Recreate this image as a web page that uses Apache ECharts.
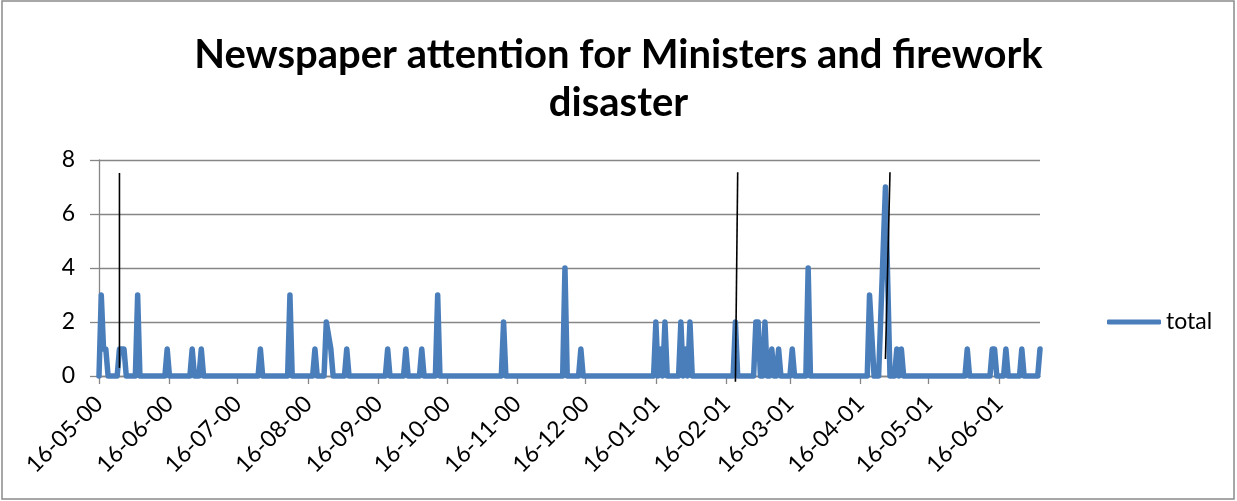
<!DOCTYPE html>
<html>
<head>
<meta charset="utf-8">
<script src="https://cdn.jsdelivr.net/npm/echarts@6/dist/echarts.min.js"></script>
<style>
  html, body { margin: 0; padding: 0; background: #fff; }
  #chart { width: 1237px; height: 501px; }
</style>
</head>
<body>
<div id="chart"></div>
<script>
// Daily article counts, 16 May 2000 – 4 July 2001.
const startDate = '2000-05-16';
const endDate = '2001-07-04';

// Days with one or more articles (all other recorded days are 0).
const spikeDates = [
  '2000-05-17', '2000-05-18', '2000-05-19', '2000-05-25', '2000-05-26', '2000-05-27',
  '2000-06-02', '2000-06-15', '2000-06-26', '2000-06-30', '2000-07-26',
  '2000-08-08', '2000-08-19', '2000-08-24', '2000-08-26', '2000-09-02',
  '2000-09-20', '2000-09-28', '2000-10-05', '2000-10-12', '2000-11-10',
  '2000-12-07', '2000-12-14',
  '2001-01-16', '2001-01-18', '2001-01-20', '2001-01-27', '2001-01-29', '2001-01-31',
  '2001-02-20', '2001-03-01', '2001-03-02', '2001-03-05', '2001-03-08', '2001-03-11',
  '2001-03-17', '2001-03-24', '2001-04-20', '2001-04-27',
  '2001-05-02', '2001-05-04', '2001-06-02', '2001-06-13', '2001-06-14',
  '2001-06-19', '2001-06-26', '2001-07-04'
];
const spikeValues = [
  3, 1, 1, 1, 1, 1,
  3, 1, 1, 1, 1,
  3, 1, 2, 1, 1,
  1, 1, 1, 3, 2,
  4, 1,
  2, 1, 2, 2, 1, 2,
  2, 2, 2, 2, 1, 1,
  1, 4, 3, 7,
  1, 1, 1, 1, 1,
  1, 1, 1
];
// Days without a record (the line is drawn straight across them).
const missingDates = ['2000-08-25', '2001-04-21', '2001-04-25', '2001-04-26', '2001-04-28'];

// Event markers: [date at top, value at top, date at bottom, value at bottom]
const eventMarkers = [
  ['2000-05-25', 7.52, '2000-05-25', 0.3],
  ['2001-02-21', 7.55, '2001-02-20', -0.21],
  ['2001-04-29', 7.55, '2001-04-27', 0.63]
];

const yTicks = { min: 0, max: 8, interval: 2 };

// Build the daily category list and values.
const categories = [];
for (let t = Date.parse(startDate + 'T00:00:00Z'); t <= Date.parse(endDate + 'T00:00:00Z'); t += 86400000) {
  categories.push(new Date(t).toISOString().slice(0, 10));
}
const values = categories.map(d => {
  if (missingDates.includes(d)) return null;
  const i = spikeDates.indexOf(d);
  return i >= 0 ? spikeValues[i] : 0;
});

function fmt(d) {
  // yyyy-mm-dd -> dd-mm-yy
  return d.slice(8, 10) + '-' + d.slice(5, 7) + '-' + d.slice(2, 4);
}
const isMonthTick = (idx, val) => val.slice(8, 10) === '16';

const FONT = 'Lato, "Open Sans", sans-serif';
const GRID_COLOR = '#868686';
const LINE_COLOR = '#4A7EBB';

const chart = echarts.init(document.getElementById('chart'), null, { renderer: 'canvas' });
chart.setOption({
  animation: false,
  backgroundColor: '#ffffff',
  title: {
    text: 'Newspaper attention for Ministers and firework\ndisaster',
    left: 'center',
    top: 26,
    textStyle: {
      fontFamily: FONT,
      fontWeight: 'bold',
      fontSize: 40,
      lineHeight: 48,
      color: '#000'
    }
  },
  legend: {
    data: [{ name: 'total', icon: 'roundRect' }],
    orient: 'vertical',
    left: 1102,
    top: 303,
    itemWidth: 54,
    itemHeight: 5,
    itemGap: 5,
    itemStyle: { color: LINE_COLOR, borderWidth: 0 },
    lineStyle: { width: 0 },
    textStyle: { fontFamily: FONT, fontSize: 23, lineHeight: 28, color: '#000', padding: [0, 0, 0, 0] }
  },
  grid: { left: 99, right: 197, top: 160, bottom: 125, containLabel: false },
  xAxis: {
    type: 'category',
    data: categories,
    boundaryGap: false,
    axisLine: { lineStyle: { color: GRID_COLOR, width: 1.3 } },
    axisTick: { interval: isMonthTick, length: 8, lineStyle: { color: GRID_COLOR, width: 1.3 } },
    axisLabel: {
      interval: isMonthTick,
      rotate: 45,
      margin: 24,
      formatter: v => fmt(v),
      fontFamily: FONT,
      fontSize: 23,
      color: '#000'
    },
    splitLine: { show: false }
  },
  yAxis: {
    type: 'value',
    min: yTicks.min,
    max: yTicks.max,
    interval: yTicks.interval,
    axisLine: { show: true, lineStyle: { color: GRID_COLOR, width: 1.3 } },
    axisTick: { show: true, length: 9, lineStyle: { color: GRID_COLOR, width: 1.3 } },
    axisLabel: { margin: 24, fontFamily: FONT, fontSize: 23, color: '#000' },
    splitLine: { lineStyle: { color: GRID_COLOR, width: 1.3 } }
  },
  graphic: [{
    type: 'rect',
    shape: { x: 2, y: 1, width: 1232, height: 498 },
    style: { fill: null, stroke: '#8a8a8a', lineWidth: 1.5 },
    silent: true
  }],
  series: [{
    name: 'total',
    type: 'line',
    data: values,
    symbol: 'none',
    connectNulls: true,
    clip: false,
    lineStyle: { color: LINE_COLOR, width: 5.5, cap: 'round', join: 'round' },
    itemStyle: { color: LINE_COLOR }
  }, {
    // thin black event markers drawn across the plot
    type: 'custom',
    data: eventMarkers.map(m => [categories.indexOf(m[0]), m[1], categories.indexOf(m[2]), m[3]]),
    encode: { x: [0, 2], y: [1, 3] },
    clip: false,
    silent: true,
    z: 5,
    renderItem: (params, api) => {
      const p1 = api.coord([api.value(0), api.value(1)]);
      const p2 = api.coord([api.value(2), api.value(3)]);
      return {
        type: 'line',
        shape: { x1: p1[0], y1: p1[1], x2: p2[0], y2: p2[1] },
        style: { stroke: '#000', lineWidth: 1.6 }
      };
    }
  }]
});
</script>
</body>
</html>
